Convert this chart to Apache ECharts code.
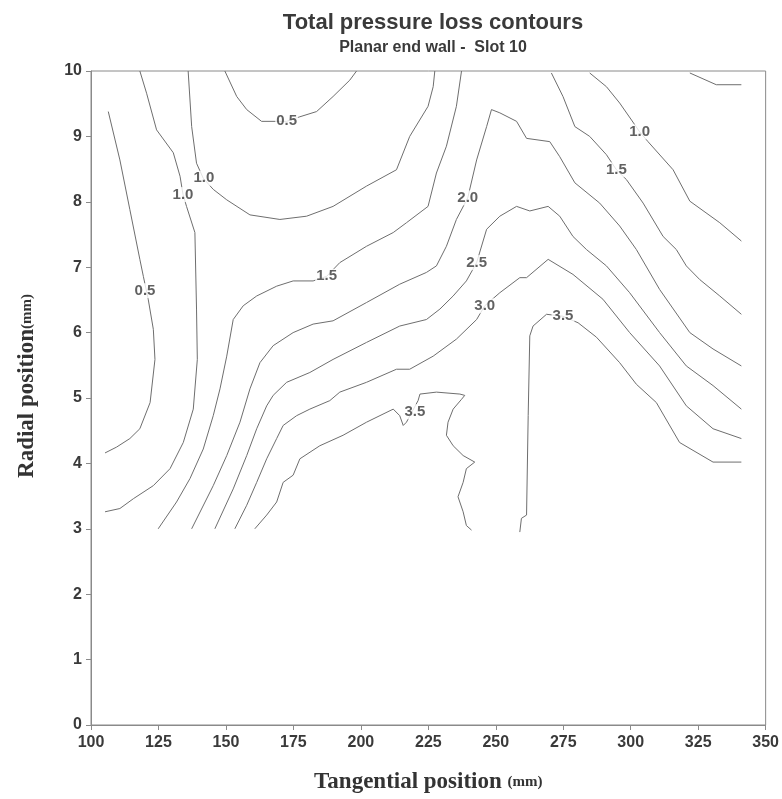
<!DOCTYPE html>
<html>
<head>
<meta charset="utf-8">
<script src="https://cdn.jsdelivr.net/npm/echarts@6/dist/echarts.min.js"></script>
<style>
html,body{margin:0;padding:0;background:#fff;}
#chart{width:782px;height:799px;}
</style>
</head>
<body>
<div id="chart"></div>
<script>
// Axis ticks
var xTicks = [100, 125, 150, 175, 200, 225, 250, 275, 300, 325, 350];
var yTicks = [0, 1, 2, 3, 4, 5, 6, 7, 8, 9, 10];

// Contour lines [tangential, radial]
var c05Left = [[106.4,9.38],[110.7,8.64],[114.4,7.88],[118.1,7.12],[119.4,6.86],[121.2,6.51],[123.1,6.05],[123.7,5.59],[121.9,4.93],[118.1,4.53],[114.4,4.38],[109.5,4.25],[105.2,4.16]];
var c05Top = [[149.6,10.0],[154.0,9.61],[157.7,9.41],[163.2,9.23],[172.5,9.23],[177.4,9.30],[183.6,9.38],[189.7,9.61],[195.9,9.86],[198.4,10.0]];
var c05TopRight = [[321.9,9.97],[331.7,9.79],[341.0,9.79]];
var c10A = [[118.1,10.0],[120.6,9.66],[124.3,9.10],[130.5,8.75],[133.0,8.39],[134.1,8.11],[135.4,7.93],[138.5,7.53],[139.1,6.36],[139.4,5.59],[137.9,4.83],[134.2,4.32],[129.3,3.92],[123.1,3.66],[115.7,3.46],[110.7,3.31],[105.2,3.26]];
var c10B = [[136.0,10.0],[137.3,9.15],[139.1,8.59],[141.6,8.36],[145.3,8.19],[150.3,8.03],[158.9,7.80],[170.0,7.73],[179.9,7.78],[189.7,7.93],[202.1,8.24],[213.2,8.49],[218.1,9.00],[224.9,9.46],[226.8,9.76],[227.4,10.0]];
var c10Right = [[284.8,9.97],[291.0,9.76],[295.9,9.51],[300.3,9.25],[303.3,9.07],[306.4,8.92],[315.7,8.49],[321.9,8.01],[333.0,7.68],[341.0,7.40]];
var c15Left = [[124.9,3.0],[131.7,3.41],[136.7,3.77],[141.6,4.22],[145.3,4.73],[147.8,5.14],[150.3,5.64],[152.7,6.20],[156.4,6.41],[161.4,6.56],[168.8,6.71],[174.9,6.79],[182.3,6.79],[187.3,6.86],[192.2,7.07],[202.1,7.32],[212.0,7.53],[216.9,7.68],[224.9,7.93],[228.0,8.44],[231.7,8.85],[235.4,9.46],[237.3,10.0]];
var c15Right = [[270.6,9.97],[274.9,9.61],[279.3,9.15],[284.8,9.00],[291.0,8.72],[294.7,8.49],[298.4,8.34],[304.6,7.98],[312.0,7.47],[316.9,7.27],[320.6,7.02],[325.6,6.81],[333.0,6.56],[341.0,6.28]];
var c20 = [[137.3,3.0],[145.3,3.66],[150.3,4.12],[155.2,4.63],[158.9,5.14],[162.6,5.54],[167.5,5.80],[174.9,6.00],[182.3,6.13],[189.7,6.18],[202.1,6.46],[214.4,6.74],[224.3,6.92],[228.0,7.02],[231.7,7.32],[235.4,7.73],[239.6,8.06],[242.9,8.64],[246.6,9.15],[248.4,9.41],[251.5,9.36],[257.7,9.23],[261.4,8.97],[270.0,8.92],[273.7,8.69],[279.3,8.29],[288.5,7.98],[295.9,7.63],[302.1,7.27],[310.7,6.66],[321.9,6.00],[330.5,5.75],[341.0,5.49]];
var c25 = [[145.9,3.0],[152.7,3.61],[157.7,4.12],[161.4,4.53],[165.1,4.88],[167.5,5.04],[172.5,5.24],[181.1,5.39],[189.7,5.59],[202.1,5.85],[214.4,6.10],[224.3,6.20],[229.3,6.36],[234.2,6.56],[239.1,6.79],[242.9,7.07],[246.6,7.58],[251.5,7.78],[257.7,7.93],[262.6,7.86],[269.4,7.93],[273.7,7.78],[278.6,7.47],[283.6,7.27],[291.0,7.02],[299.6,6.61],[310.7,6.00],[320.6,5.49],[330.5,5.19],[341.0,4.83]];
var c30 = [[153.3,3.0],[157.7,3.36],[161.4,3.71],[165.1,4.07],[168.8,4.38],[171.2,4.58],[176.2,4.73],[181.1,4.83],[188.5,4.96],[192.2,5.09],[202.1,5.24],[213.2,5.44],[218.1,5.44],[226.8,5.64],[235.4,5.90],[242.9,6.20],[245.9,6.41],[251.5,6.61],[258.9,6.84],[261.4,6.84],[269.4,7.12],[278.6,6.89],[289.7,6.51],[299.6,6.00],[310.7,5.49],[320.6,4.88],[330.5,4.53],[341.0,4.38]];
var c35Left = [[160.7,3.0],[165.1,3.21],[168.8,3.41],[171.2,3.71],[174.9,3.82],[177.4,4.07],[184.8,4.27],[193.4,4.43],[202.1,4.63],[212.0,4.83],[214.4,4.73],[215.7,4.58],[216.9,4.63],[221.2,4.96],[221.9,5.06],[228.0,5.09],[236.7,5.06],[238.5,5.04],[237.3,4.98],[234.2,4.83],[232.3,4.63],[231.7,4.43],[234.2,4.27],[237.9,4.12],[242.2,4.02],[239.1,3.92],[237.9,3.71],[236.0,3.49],[237.9,3.26],[239.1,3.05],[241.0,2.98]];
var c35Right = [[258.9,2.95],[259.5,3.16],[261.4,3.21],[262.0,4.73],[262.6,5.95],[263.8,6.10],[268.8,6.28],[274.9,6.25],[280.5,6.15],[287.3,5.93],[295.9,5.54],[302.1,5.21],[309.5,4.93],[318.1,4.32],[330.5,4.02],[341.0,4.02]];

// Contour labels
var labelX = [120.0, 172.5, 134.1, 141.8, 187.3, 239.6, 242.9, 245.9, 220.0, 274.9, 303.3, 294.7];
var labelY = [6.64, 9.23, 8.11, 8.36, 6.86, 8.06, 7.07, 6.41, 4.79, 6.25, 9.07, 8.49];
var labelText = ['0.5', '0.5', '1.0', '1.0', '1.5', '2.0', '2.5', '3.0', '3.5', '3.5', '1.0', '1.5'];

var contours = [c05Left, c05Top, c05TopRight, c10A, c10B, c10Right, c15Left, c15Right, c20, c25, c30, c35Left, c35Right];

var SANS = 'Liberation Sans, Arial, sans-serif';
var SERIF = 'Liberation Serif, Times New Roman, serif';

var chart = echarts.init(document.getElementById('chart'), null, {renderer: 'canvas'});
var series = contours.map(function (d) {
  return {
    type: 'line', data: d, showSymbol: false, symbol: 'none', smooth: false,
    lineStyle: {color: '#6e6e6e', width: 1}, silent: true, z: 2
  };
});
series.push({
  type: 'scatter',
  data: labelX.map(function (x, i) { return {value: [x, labelY[i]], name: labelText[i]}; }),
  symbolSize: 0.1,
  z: 5,
  label: {
    show: true, position: 'inside', formatter: function (p) { return p.name; },
    color: '#3a3a3a', fontSize: 15, fontWeight: 'bold', fontFamily: SANS,
    backgroundColor: '#fff', padding: [0, 1]
  }
});

chart.setOption({
  animation: false,
  backgroundColor: '#fff',
  title: {
    text: 'Total pressure loss contours',
    subtext: 'Planar end wall -  Slot 10',
    left: 428, top: 7, textAlign: 'center',
    itemGap: 6,
    textStyle: {fontSize: 22, fontWeight: 'bold', color: '#3a3a3a', fontFamily: SANS},
    subtextStyle: {fontSize: 16, fontWeight: 'bold', color: '#3a3a3a', fontFamily: SANS}
  },
  grid: {left: 91, right: 16, top: 71, bottom: 72, show: true, borderColor: '#8a8a8a', borderWidth: 1, backgroundColor: 'transparent'},
  xAxis: {
    type: 'value', min: xTicks[0], max: xTicks[xTicks.length - 1], interval: 25,
    name: '{a|Tangential position }{b|(mm)}', nameLocation: 'middle', nameGap: 46,
    nameTextStyle: {rich: {
      a: {fontSize: 23, fontWeight: 'bold', color: '#333', fontFamily: SERIF},
      b: {fontSize: 15, fontWeight: 'bold', color: '#333', fontFamily: SERIF}
    }},
    axisLine: {show: true, lineStyle: {color: '#8a8a8a'}},
    axisTick: {show: true, inside: false, length: 5, lineStyle: {color: '#8a8a8a'}},
    axisLabel: {color: '#3a3a3a', fontSize: 16, fontWeight: 'bold', fontFamily: SANS, margin: 10},
    splitLine: {show: false}
  },
  yAxis: {
    type: 'value', min: yTicks[0], max: yTicks[yTicks.length - 1], interval: 1,
    name: '{a|Radial position}{b|(mm)}', nameLocation: 'middle', nameGap: 52, nameRotate: 90,
    nameTextStyle: {padding: [0, 0, 0, 24], rich: {
      a: {fontSize: 23, fontWeight: 'bold', color: '#333', fontFamily: SERIF},
      b: {fontSize: 15, fontWeight: 'bold', color: '#333', fontFamily: SERIF}
    }},
    axisLine: {show: true, lineStyle: {color: '#8a8a8a'}},
    axisTick: {show: true, inside: false, length: 5, lineStyle: {color: '#8a8a8a'}},
    axisLabel: {color: '#3a3a3a', fontSize: 16, fontWeight: 'bold', fontFamily: SANS, margin: 9},
    splitLine: {show: false}
  },
  series: series
});
</script>
</body>
</html>
